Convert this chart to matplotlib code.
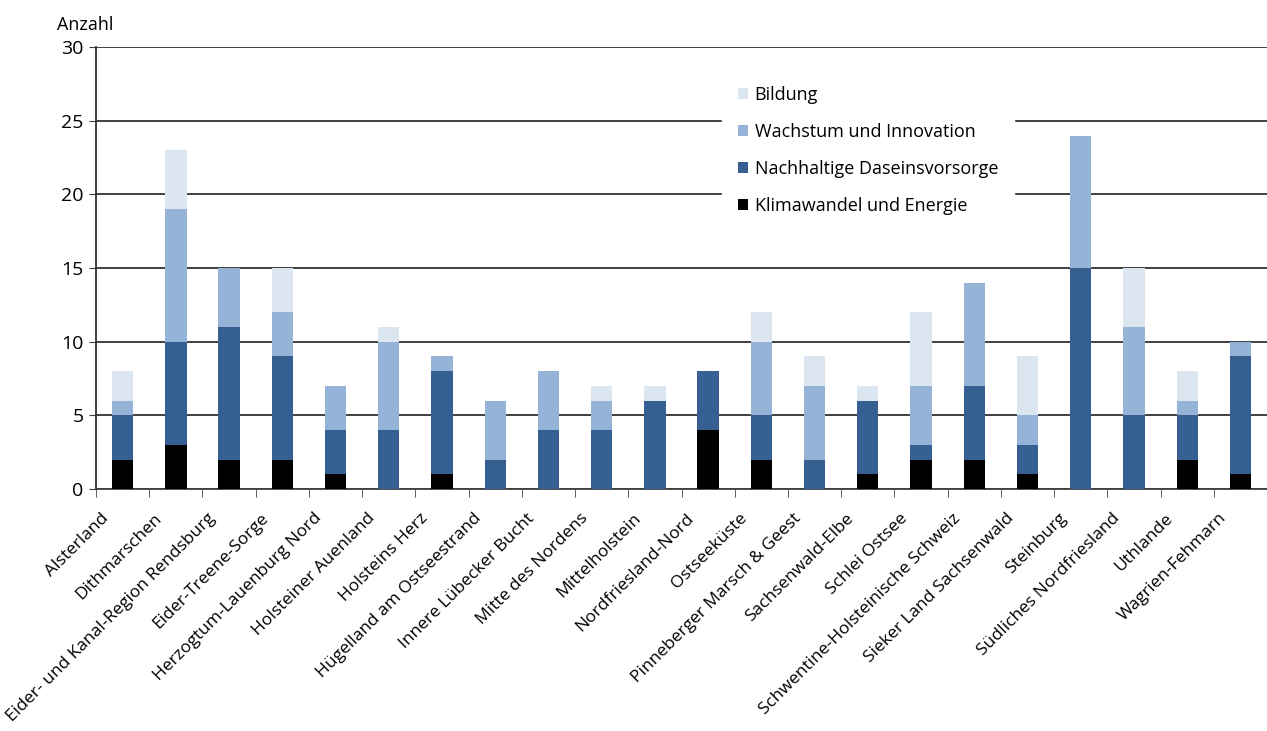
import matplotlib.pyplot as plt
import matplotlib.transforms as mtransforms
import numpy as np

plt.rcParams['font.family'] = ['Open Sans', 'DejaVu Sans']

regionen = ["Alsterland", "Dithmarschen", "Eider- und Kanal-Region Rendsburg",
            "Eider-Treene-Sorge", "Herzogtum-Lauenburg Nord", "Holsteiner Auenland",
            "Holsteins Herz", "Hügelland am Ostseestrand", "Innere Lübecker Bucht",
            "Mitte des Nordens", "Mittelholstein", "Nordfriesland-Nord", "Ostseeküste",
            "Pinneberger Marsch & Geest", "Sachsenwald-Elbe", "Schlei Ostsee",
            "Schwentine-Holsteinische Schweiz", "Sieker Land Sachsenwald", "Steinburg",
            "Südliches Nordfriesland", "Uthlande", "Wagrien-Fehmarn"]

klima = [2, 3, 2, 2, 1, 0, 1, 0, 0, 0, 0, 4, 2, 0, 1, 2, 2, 1, 0, 0, 2, 1]
daseinsvorsorge = [3, 7, 9, 7, 3, 4, 7, 2, 4, 4, 6, 4, 3, 2, 5, 1, 5, 2, 15, 5, 3, 8]
wachstum = [1, 9, 4, 3, 3, 6, 1, 4, 4, 2, 0, 0, 5, 5, 0, 4, 7, 2, 9, 6, 1, 1]
bildung = [2, 4, 0, 3, 0, 1, 0, 0, 0, 1, 1, 0, 2, 2, 1, 5, 0, 4, 0, 4, 2, 0]

serien = [("Klimawandel und Energie", klima, "#000000"),
          ("Nachhaltige Daseinsvorsorge", daseinsvorsorge, "#366092"),
          ("Wachstum und Innovation", wachstum, "#95b3d7"),
          ("Bildung", bildung, "#dce6f1")]

fig = plt.figure(figsize=(12.67, 7.31), dpi=100)
ax = fig.add_axes([0.0758, 0.331, 0.9242, 0.6045])

x = np.arange(len(regionen))
unten = np.zeros(len(regionen))
for name, werte, farbe in serien:
    ax.bar(x, werte, 0.4, bottom=unten, color=farbe, label=name, zorder=3)
    unten += np.array(werte)

ax.set_xlim(-0.5, len(regionen) - 0.5)
ax.set_ylim(0, 30)
ax.set_yticks(range(0, 31, 5))
ax.yaxis.grid(True, color="#303030", linewidth=1.3, zorder=0)
ax.set_axisbelow(True)
for s in ["top", "right"]:
    ax.spines[s].set_visible(False)
ax.spines["left"].set_color("#303030")
ax.spines["bottom"].set_color("#404040")
ax.spines["left"].set_linewidth(1.3)
ax.spines["bottom"].set_linewidth(1.3)

ax.set_xticks(x)
ax.set_xticklabels(regionen, rotation=45, ha="right", rotation_mode="anchor", fontsize=12.5)
ax.set_xticks(np.arange(-0.5, len(regionen), 1), minor=True)
ax.tick_params(axis="x", which="major", length=0, pad=8)
ax.tick_params(axis="x", which="minor", length=6, direction="out", color="#404040")
ax.tick_params(axis="y", length=5, labelsize=14, color="#404040", pad=4)

# Beschriftungen etwas nach links unten schieben
versatz = mtransforms.ScaledTranslation(-22 / 100, -10 / 100, fig.dpi_scale_trans)
for lbl in ax.get_xticklabels():
    lbl.set_transform(lbl.get_transform() + versatz)

fig.text(57 / 1267, 1 - 25 / 731, "Anzahl", fontsize=13, ha="left", va="center")

h, l = ax.get_legend_handles_labels()
leg = ax.legend(h[::-1], l[::-1], loc="upper left", bbox_to_anchor=(0.527, 0.967),
                frameon=True, fontsize=13, handlelength=0.6, handleheight=0.6,
                handletextpad=0.35, labelspacing=1.05, borderpad=0.85)
leg.get_frame().set_edgecolor("white")
leg.get_frame().set_facecolor("white")
leg.get_frame().set_alpha(1)
leg.get_frame().set_boxstyle("square", pad=0)

fig.savefig("out.png", dpi=100)
